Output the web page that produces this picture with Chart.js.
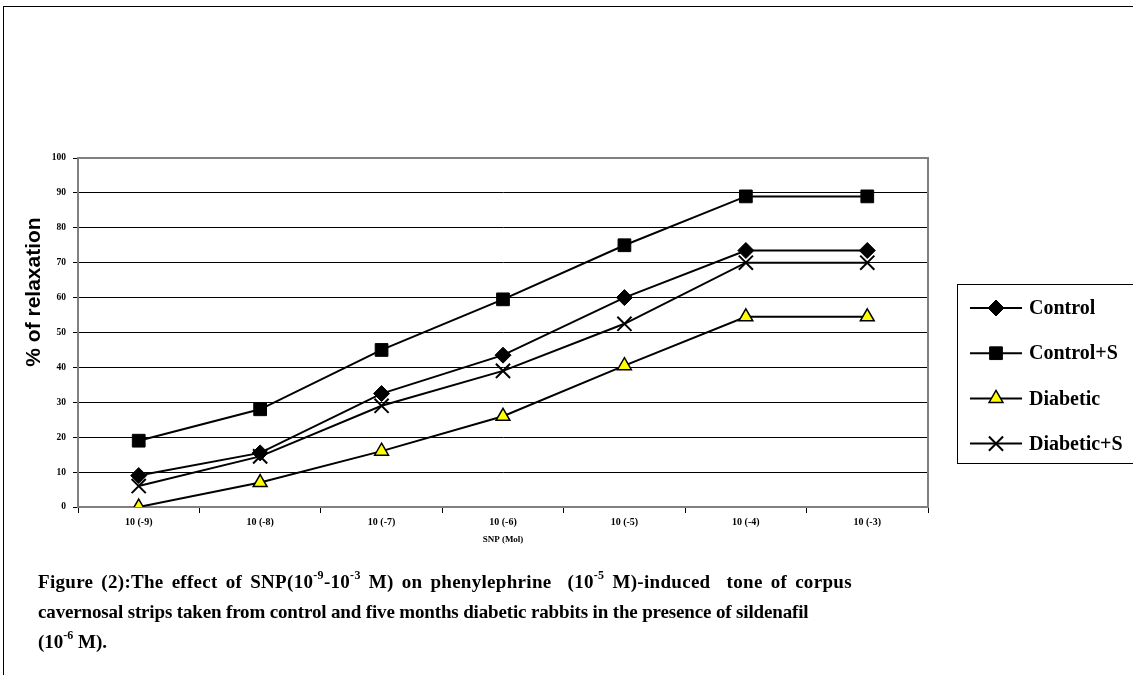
<!DOCTYPE html>
<html><head><meta charset="utf-8">
<script src="https://cdn.jsdelivr.net/npm/chart.js@4/dist/chart.umd.min.js"></script>
<style>
html,body{margin:0;padding:0;background:#fff;}
#wrap{position:relative;width:1133px;height:675px;overflow:hidden;background:#fff;}
#frame{position:absolute;left:3px;top:6px;width:1140px;height:700px;border-left:1.5px solid #000;border-top:1.5px solid #000;}
canvas{position:absolute;left:0;top:0;}
#caption{position:absolute;left:38px;top:567px;font-family:"Liberation Serif","Times New Roman",serif;font-weight:bold;font-size:19px;line-height:30px;color:#000;white-space:nowrap;}
#caption .l1{word-spacing:3px;letter-spacing:0.3px;}
#caption .l2{letter-spacing:-0.15px;}
#caption sup{font-size:12px;line-height:0;position:relative;top:-2px;}
</style></head>
<body>
<div id="wrap">
<div id="frame"></div>
<canvas id="c" width="1133" height="675"></canvas>
<div id="caption">
<div class="l1">Figure (2):The effect of SNP(10<sup>-9</sup>-10<sup>-3</sup> M) on phenylephrine &nbsp;(10<sup>-5</sup> M)-induced &nbsp;tone of corpus</div>
<div class="l2">cavernosal strips taken from control and five months diabetic rabbits in the presence of sildenafil</div>
<div>(10<sup>-6</sup> M).</div>
</div>
</div>
<script>
const categories = ['10 (-9)','10 (-8)','10 (-7)','10 (-6)','10 (-5)','10 (-4)','10 (-3)'];
const control   = [9, 15.5, 32.5, 43.5, 60, 73.5, 73.5];
const controlS  = [19, 28, 45, 59.5, 75, 89, 89];
const diabetic  = [0, 7, 16, 26, 40.5, 54.5, 54.5];
const diabeticS = [6, 14.5, 29, 39, 52.5, 70, 70];
const seriesNames = ['Control','Control+S','Diabetic','Diabetic+S'];
const yMin = 0, yMax = 100, yStep = 10;
const yTitle = '% of relaxation';
const xTitle = 'SNP (Mol)';

const serif = '"Liberation Serif","Times New Roman",serif';

function ds(label, data, style, radius, fill, bw){
  return {label, data, borderColor:'#000', borderWidth:2, backgroundColor:fill,
    pointStyle:style, pointRadius:radius, pointHoverRadius:radius,
    pointBackgroundColor:fill, pointBorderColor:'#000', pointBorderWidth:bw, tension:0, fill:false};
}

const decor = {
  id:'decor',
  beforeDatasetsDraw(chart){
    const {ctx, chartArea:a} = chart;
    ctx.save();
    ctx.strokeStyle='#808080'; ctx.lineWidth=2;
    ctx.strokeRect(a.left, a.top, a.right-a.left, a.bottom-a.top);
    ctx.restore();
  },
  afterDraw(chart){
    const ctx = chart.ctx;
    ctx.save();
    ctx.translate(34, 292); ctx.rotate(-Math.PI/2);
    ctx.font = 'bold 21px "Liberation Sans", Arial, sans-serif';
    ctx.fillStyle='#000'; ctx.textAlign='center'; ctx.textBaseline='middle';
    ctx.fillText(yTitle, 0, 0);
    ctx.restore();

    ctx.save();
    ctx.strokeStyle='#000'; ctx.lineWidth=1;
    ctx.strokeRect(957.5, 284.5, 200, 179);
    chart.data.datasets.forEach((d,i)=>{
      const y = 308 + i*45.2;
      ctx.strokeStyle='#000'; ctx.lineWidth=2;
      ctx.beginPath(); ctx.moveTo(970,y); ctx.lineTo(1022,y); ctx.stroke();
      ctx.fillStyle=d.pointBackgroundColor; ctx.strokeStyle='#000'; ctx.lineWidth=d.pointBorderWidth;
      Chart.helpers.drawPoint(ctx, {pointStyle:d.pointStyle, radius:d.pointRadius, borderWidth:d.pointBorderWidth, rotation:0}, 996, y);
      ctx.fillStyle='#000'; ctx.font='bold 20px '+serif; ctx.textAlign='left'; ctx.textBaseline='middle';
      ctx.fillText(d.label, 1029, y+1);
    });
    ctx.restore();
  }
};

new Chart(document.getElementById('c'), {
  type:'line',
  data:{
    labels:categories,
    datasets:[
      ds(seriesNames[0], control, 'rectRot', 8, '#000', 1),
      ds(seriesNames[1], controlS, 'rect', 9, '#000', 1),
      ds(seriesNames[2], diabetic, 'triangle', 8, '#ffff00', 1.5),
      ds(seriesNames[3], diabeticS, 'crossRot', 10, '#000', 2)
    ]
  },
  options:{
    responsive:false, animation:false, devicePixelRatio:1,
    layout:{padding:{left:22, top:158, right:205, bottom:126}},
    plugins:{legend:{display:false}, tooltip:{enabled:false}},
    scales:{
      x:{
        type:'category', offset:true,
        grid:{offset:true, drawOnChartArea:false, drawTicks:true, tickLength:6, tickColor:'#000'},
        border:{color:'#808080', width:2},
        ticks:{font:{family:serif, weight:'bold', size:10}, color:'#000', padding:3, maxRotation:0, autoSkip:false},
        title:{display:true, text:xTitle, color:'#000', font:{family:serif, weight:'bold', size:9}, padding:{top:0, bottom:4}},
        afterFit(s){ s.height = 42; }
      },
      y:{
        min:yMin, max:yMax,
        ticks:{stepSize:yStep, font:{family:serif, weight:'bold', size:9.5}, color:'#000', padding:7},
        grid:{color:'#000', lineWidth:1, tickLength:5, tickColor:'#000'},
        border:{color:'#808080', width:2},
        afterFit(s){ s.width = 56; }
      }
    }
  },
  plugins:[decor]
});
</script>
</body></html>
